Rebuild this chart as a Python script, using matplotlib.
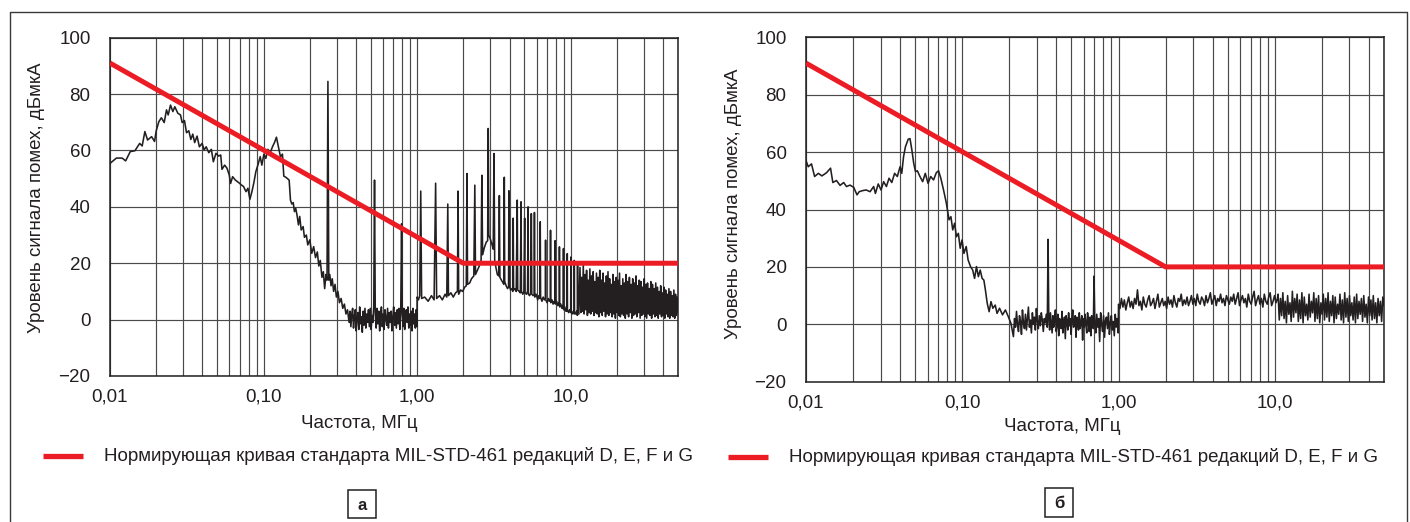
import numpy as np
import matplotlib
matplotlib.use("Agg")
import matplotlib.pyplot as plt
from matplotlib.lines import Line2D
from matplotlib.patches import Rectangle
from matplotlib.ticker import FixedLocator, FixedFormatter, LogLocator, NullFormatter

plt.rcParams['font.family'] = ['Liberation Sans', 'DejaVu Sans']

# ---------------- data ----------------
limit_f = [0.01, 2.0, 50.0]
limit_v = [91.0, 20.0, 20.0]

x_ticks = [0.01, 0.1, 1.0, 10.0]
x_tick_labels = ['0,01', '0,10', '1,00', '10,0']
y_ticks = [-20, 0, 20, 40, 60, 80, 100]

legend_text = 'Нормирующая кривая стандарта MIL-STD-461 редакций D, E, F и G'
x_label = 'Частота, МГц'
y_label = 'Уровень сигнала помех, дБмкА'
panel_labels = ['а', 'б']

# left panel (а): explicit points 0.01 - 0.35 MHz
left_a = [(0.01, 55.4), (0.0110, 57.3), (0.0120, 57.3), (0.01264, 56.3), (0.01355, 59.6),
          (0.01453, 59.9), (0.0156, 62.5), (0.0162, 61.6), (0.01687, 66.7), (0.01757, 63.7),
          (0.01866, 64.9), (0.0195, 63.2), (0.0200, 67.0), (0.0208, 70.2), (0.0216, 71.6),
          (0.02254, 69.9), (0.02333, 74.4), (0.02393, 72.6), (0.02478, 76.1), (0.02566, 73.8),
          (0.02643, 75.5), (0.02766, 73.2), (0.02877, 72.6), (0.02951, 69.9), (0.03055, 70.6),
          (0.0315, 66.3), (0.0326, 67.0), (0.0336, 63.9), (0.0346, 65.8), (0.0356, 62.8),
          (0.0369, 65.1), (0.0382, 61.3), (0.0398, 62.5), (0.0410, 60.2), (0.0423, 61.3),
          (0.0440, 59.2), (0.0457, 60.4), (0.0471, 56.0), (0.0490, 59.0), (0.0510, 58.0),
          (0.0526, 58.4), (0.0536, 53.3), (0.0558, 54.8), (0.0578, 53.7), (0.0598, 51.3),
          (0.0610, 48.3), (0.0629, 50.7), (0.0655, 49.5), (0.0689, 48.6), (0.0716, 47.8),
          (0.0741, 47.2), (0.0768, 45.4), (0.0791, 46.6), (0.0815, 42.7), (0.0840, 45.4),
          (0.0865, 48.6), (0.0891, 52.5), (0.0918, 54.8), (0.0951, 57.8), (0.0975, 54.8),
          (0.1005, 58.7), (0.1035, 57.2), (0.1067, 60.4), (0.1105, 59.2), (0.1143, 61.3),
          (0.1178, 62.8), (0.1213, 64.7), (0.125, 61.3), (0.1288, 57.8), (0.1327, 58.7),
          (0.1355, 50.9), (0.1396, 50.5), (0.1468, 49.5), (0.1497, 42.4), (0.1528, 41.0),
          (0.156, 41.5), (0.1589, 38.3), (0.162, 39.5), (0.1655, 36.8), (0.1687, 33.6),
          (0.172, 36.6), (0.1758, 31.8), (0.181, 33.0), (0.1846, 29.2), (0.19, 30.0),
          (0.194, 26.5), (0.2, 28.3), (0.206, 23.5), (0.212, 25.9), (0.218, 22.0),
          (0.224, 24.0), (0.229, 19.0), (0.234, 21.0), (0.240, 15.0), (0.245, 17.0),
          (0.250, 11.0), (0.255, 16.0), (0.259, 14.0), (0.2625, 84.5), (0.266, 14.0),
          (0.270, 16.0), (0.275, 12.0), (0.28, 14.5), (0.286, 10.0), (0.292, 12.5),
          (0.298, 8.0), (0.305, 10.0), (0.312, 6.0), (0.32, 7.5), (0.328, 4.0),
          (0.336, 5.5), (0.344, 2.0), (0.352, 3.5)]

left_noise1 = [1.5, -1.0, 3.0, -2.5, 2.0, 4.0, -3.0, 1.0, 3.5, -4.0, 0.5, 2.5, -3.5, 4.5,
               -1.5, 1.0, -4.5, 3.0, -2.0, 4.0, -3.0, 2.0, -1.0, 3.5, -2.5, 4.0, -3.5,
               1.5, -1.0, 4.5]
left_spike1 = (0.528, 49.5)
left_noise2 = [2.0, -3.0, 4.0, -1.5, 3.0, -4.0, 1.5, 4.5, -2.5, 2.0, -3.5, 3.5, 0.5, -2.0,
               4.0, -3.0, 2.5, -1.0, 3.0, -4.0, 1.0, 4.5, -2.0, 2.5, -3.0, 3.5, -1.5,
               4.0, -3.5, 2.0]
left_spike2 = (0.792, 34.0)
left_noise3 = [3.0, -2.5, 4.0, -3.5, 1.5, 3.5, -1.0, 4.5, -3.0, 2.0, -2.0, 3.0, -4.0, 4.0,
               -1.5, 2.0, -3.0, 3.5, -2.5]

# left panel: harmonics 1 - 11.3 MHz
left_b = [(1.0, 8.0), (1.02, 7.0), (1.04, 8.5), (1.056, 45.6), (1.07, 7.5), (1.12, 8.0),
          (1.18, 6.5), (1.24, 8.5), (1.29, 7.0), (1.32, 48.4), (1.34, 7.5), (1.40, 8.5),
          (1.46, 7.0), (1.52, 9.0), (1.56, 8.0), (1.584, 41.0), (1.60, 8.5), (1.66, 9.5),
          (1.72, 8.0), (1.78, 9.5), (1.83, 10.0), (1.848, 45.6), (1.865, 9.0), (1.92, 10.5),
          (1.98, 10.0), (2.04, 11.5), (2.09, 12.0), (2.112, 51.8), (2.13, 12.5), (2.2, 13.0),
          (2.26, 14.5), (2.34, 15.5), (2.376, 47.7), (2.40, 16.0), (2.47, 17.5), (2.54, 19.0),
          (2.61, 21.0), (2.64, 51.2), (2.67, 23.0), (2.74, 25.5), (2.82, 27.5), (2.88, 28.0),
          (2.904, 67.8), (2.93, 30.0), (3.00, 28.5), (3.06, 27.0), (3.13, 25.0), (3.168, 58.9),
          (3.2, 21.0), (3.26, 18.5), (3.33, 16.0), (3.40, 15.5), (3.432, 44.0), (3.46, 15.0),
          (3.54, 14.0), (3.62, 13.0), (3.67, 12.5), (3.696, 50.5), (3.72, 13.5), (3.8, 12.0),
          (3.88, 11.0), (3.94, 11.5), (3.96, 45.7), (3.99, 12.0), (4.06, 10.5), (4.14, 11.0),
          (4.20, 10.0), (4.224, 36.0), (4.25, 10.5), (4.33, 11.0), (4.42, 10.0), (4.488, 42.4),
          (4.52, 10.5), (4.62, 10.0), (4.70, 9.5), (4.752, 41.8), (4.78, 10.0), (4.88, 9.0),
          (4.96, 10.0), (5.016, 36.0), (5.05, 9.5), (5.15, 9.0), (5.24, 10.0), (5.28, 40.0),
          (5.31, 9.0), (5.40, 8.5), (5.50, 9.5), (5.544, 37.6), (5.58, 9.0), (5.70, 8.5),
          (5.78, 9.0), (5.808, 38.0), (5.84, 8.0), (5.96, 9.0), (6.10, 7.0), (6.20, 8.5),
          (6.30, 7.5), (6.336, 34.7), (6.37, 8.0), (6.50, 6.5), (6.62, 8.0), (6.74, 7.0),
          (6.84, 7.5), (6.864, 28.2), (6.89, 7.0), (7.02, 6.0), (7.15, 7.5), (7.27, 6.5),
          (7.37, 7.0), (7.392, 31.7), (7.42, 6.0), (7.56, 7.0), (7.68, 5.5), (7.82, 6.5),
          (7.90, 6.0), (7.92, 28.0), (7.95, 5.5), (8.10, 6.5), (8.22, 5.0), (8.36, 6.0),
          (8.43, 5.0), (8.448, 25.8), (8.48, 4.5), (8.63, 5.5), (8.76, 4.0), (8.90, 5.0),
          (8.95, 4.0), (8.976, 25.2), (9.00, 3.5), (9.16, 4.5), (9.30, 3.0), (9.45, 4.0),
          (9.48, 3.0), (9.504, 23.4), (9.53, 3.5), (9.70, 2.5), (9.85, 3.5), (10.0, 2.5),
          (10.032, 22.2), (10.06, 3.0), (10.22, 2.0), (10.40, 3.0), (10.54, 2.0), (10.56, 21.0),
          (10.59, 2.5), (10.76, 2.0), (10.94, 3.0), (11.06, 1.5), (11.088, 20.0), (11.12, 2.5),
          (11.30, 2.0)]

# left panel: dense harmonic band 11.5 - 50 MHz
left_dense = [18.5, 2.5, 15.0, 3.0, 19.5, 2.0, 16.0, 3.5, 17.5, 1.5, 14.0, 2.5, 18.0, 2.0,
              15.5, 3.0, 17.0, 1.5, 13.5, 2.5, 16.5, 2.0, 15.0, 1.0,
              17.5, 2.5, 14.0, 1.5, 16.5, 3.0, 13.0, 1.0, 15.5, 2.0, 17.0, 1.5, 14.5, 2.5,
              12.5, 1.0, 16.0, 2.0, 13.5, 0.5, 15.0, 2.5, 14.0, 1.5, 16.5, 1.0, 12.0, 2.0,
              14.5, 1.5, 13.0, 0.5,
              16.0, 2.0, 13.5, 1.0, 15.0, 2.5, 12.5, 0.5, 14.5, 1.5, 13.0, 2.0, 15.5, 1.0,
              12.0, 2.5, 14.0, 0.5, 13.5, 1.5, 11.5, 2.0, 14.5, 1.0, 12.5, 0.5, 13.0, 2.0,
              11.0, 1.5, 13.5, 0.5,
              12.5, 2.0, 11.0, 1.0, 13.0, 1.5, 11.5, 0.5, 10.0, 2.0, 12.0, 1.0, 9.5, 1.5,
              11.5, 0.5, 10.5, 2.0, 9.0, 1.0, 11.0, 0.5, 10.0, 1.5, 8.5, 1.0, 10.5, 0.5,
              9.0, 1.5, 8.0, 2.5]

# right panel (б): explicit points 0.01 - 0.2125 MHz
right_a = [(0.01, 57.0), (0.01034, 54.9), (0.01084, 55.9), (0.01135, 51.5), (0.0120, 52.6),
           (0.01264, 51.7), (0.01352, 52.8), (0.01436, 54.4), (0.01485, 49.4), (0.01567, 50.1),
           (0.01652, 48.4), (0.01742, 49.4), (0.01815, 48.0), (0.01914, 48.5), (0.0202, 47.7),
           (0.0212, 45.1), (0.0219, 46.2), (0.0231, 46.6), (0.0243, 46.8), (0.0257, 46.2),
           (0.0271, 48.0), (0.0278, 45.6), (0.029, 48.9), (0.0302, 46.8), (0.0314, 49.7),
           (0.0327, 48.0), (0.0340, 50.9), (0.0354, 49.4), (0.0369, 52.6), (0.0384, 51.5),
           (0.040, 54.9), (0.0410, 52.6), (0.0421, 58.4), (0.0433, 61.9), (0.0451, 64.5),
           (0.0463, 64.7), (0.0476, 60.7), (0.0489, 56.1), (0.0502, 53.2), (0.0516, 53.5),
           (0.0536, 51.5), (0.0558, 49.7), (0.058, 52.6), (0.0604, 49.1), (0.0628, 51.5),
           (0.0655, 50.3), (0.0682, 52.8), (0.0705, 53.5), (0.0729, 50.9), (0.0759, 46.8),
           (0.0791, 42.2), (0.0823, 36.4), (0.0846, 37.5), (0.0869, 32.9), (0.0893, 35.2),
           (0.0918, 30.5), (0.0944, 31.7), (0.097, 26.5), (0.0997, 29.4), (0.1025, 24.7),
           (0.106, 27.1), (0.109, 22.4), (0.113, 20.1), (0.1166, 18.9), (0.1199, 16.0),
           (0.1233, 20.1), (0.1268, 16.6), (0.1303, 18.9), (0.134, 16.0), (0.1375, 15.4),
           (0.1406, 12.0), (0.1445, 7.3), (0.1486, 4.4), (0.1527, 7.9), (0.157, 5.6),
           (0.1625, 6.7), (0.167, 3.8), (0.1732, 5.6), (0.181, 3.3), (0.1888, 5.0),
           (0.197, 2.7), (0.205, 0.3), (0.2125, -4.3)]

right_noise1 = [2.0, -1.0, 4.5, 0.0, -2.5, 3.0, 1.0, -3.5, 5.0, 0.5, -1.5, 3.5, -2.0, 2.0,
                6.0, -1.0, 1.5, -3.0, 4.0, 0.0, 2.5, -2.0, 5.5, 1.0, -1.5, 3.0, -0.5, 4.0,
                1.5, -2.5, 2.0, 0.5, 3.5, -1.0]
right_spike1 = (0.354, 29.6)
right_noise2 = [2.0, -2.0, 4.0, 0.5, -3.0, 3.0, -1.0, 1.5, 5.0, -2.5, 0.0, 3.5, -4.0, 2.0,
                1.0, -1.5, 4.5, -3.0, 0.5, 2.5, -5.0, 3.0, 1.0, -2.0, 4.0, -0.5, 2.0, -3.5,
                1.5, 5.0, -1.0, 0.0, 3.0, -4.5, 2.5, 1.0, -2.0, 4.0, -1.5, 0.5, 3.0, -5.5,
                2.0, -1.0, 3.5, 0.0, -3.0, 4.0, 1.0, -2.5, 2.5, -4.0, 3.0, 0.5, -1.5]
right_spike2 = (0.697, 16.8)
right_noise3 = [1.0, -3.0, 3.5, -1.0, 2.0, -6.0, 4.0, 0.0, -2.5, 3.0, -4.5, 1.5, 2.5, -1.5,
                4.0, -3.5, 0.5, 3.0, -2.0, 1.0, -4.0, 3.5, -1.0, 2.0, -3.0]
right_band1 = [7.0, 5.5, 9.0, 6.0, 8.5, 5.0, 7.5, 9.5, 6.0, 8.0,
               5.5, 9.0, 7.0, 12.0, 6.5, 8.0, 5.0, 9.5, 7.0, 6.0,
               8.5, 10.0, 6.5, 7.5, 9.0, 5.5, 8.0, 10.5, 6.0, 7.5,
               9.0, 6.5, 8.0, 5.5, 9.5, 7.0, 8.5, 6.0, 10.0, 7.5,
               6.0, 9.0, 8.0, 10.5, 6.5, 8.5, 7.0, 9.5, 6.5, 8.0,
               10.0, 7.0, 9.0, 6.5, 10.5, 8.0, 7.0, 9.5, 8.5, 6.5,
               10.0, 7.5, 9.0, 11.0, 7.0, 8.5, 10.0, 6.5, 9.0, 8.0,
               10.5, 7.5, 9.0, 6.5, 10.0, 8.5, 7.0, 9.5, 8.0, 10.5,
               7.0, 9.0, 11.0, 6.5, 8.5, 10.0, 7.5, 9.0, 6.0, 10.5,
               8.0, 7.0, 9.5, 11.5, 6.5, 8.5, 10.0, 7.0, 9.0, 6.0,
               10.5, 8.0, 7.0, 9.5, 11.0, 6.5, 8.0, 10.0, 7.5, 9.0]
right_band2 = [10.5, 1.5, 9.0, 3.0, 11.0, 2.0, 8.0, 0.5, 10.0, 3.5,
               7.5, 1.0, 11.5, 2.5, 9.0, 4.0, 10.5, 1.0, 8.5, 2.0,
               11.0, 0.5, 9.5, 3.0, 7.0, 1.5, 10.5, 2.5, 8.0, 4.0,
               11.0, 1.0, 9.0, 2.0, 10.0, 0.5, 7.5, 3.5, 10.5, 1.5,
               9.0, 2.5, 11.0, 1.0, 8.0, 3.0, 10.0, 0.5, 9.5, 2.0,
               7.0, 3.5, 10.5, 1.5, 8.5, 0.5, 11.0, 2.5, 9.0, 1.0,
               10.0, 3.0, 7.5, 1.5, 9.5, 0.5, 10.5, 2.0, 8.0, 3.5,
               9.0, 1.0, 10.0, 2.5, 7.0, 0.5, 9.5, 3.0, 8.5, 1.5,
               10.0, 2.0, 7.5, 0.5, 9.0, 3.0, 8.0, 1.0, 9.5, 6.5]


# ---------------- build traces ----------------
def pts(pairs):
    f, v = zip(*pairs)
    return np.array(f), np.array(v)


def seg(f0, f1, levels):
    return np.geomspace(f0, f1, len(levels)), np.asarray(levels, dtype=float)


def join(*parts):
    return (np.concatenate([p[0] for p in parts]),
            np.concatenate([p[1] for p in parts]))


left_f, left_v = join(
    pts(left_a),
    seg(0.356, 0.522, left_noise1),
    pts([left_spike1]),
    seg(0.534, 0.782, left_noise2),
    pts([left_spike2]),
    seg(0.80, 0.998, left_noise3),
    pts(left_b),
    seg(11.5, 50.0, left_dense),
)

right_f, right_v = join(
    pts(right_a),
    seg(0.216, 0.350, right_noise1),
    pts([right_spike1]),
    seg(0.358, 0.690, right_noise2),
    pts([right_spike2]),
    seg(0.705, 0.995, right_noise3),
    seg(1.0, 10.4, right_band1),
    seg(10.5, 50.0, right_band2),
)

# ---------------- figure ----------------
W, H = 1410, 522
fig = plt.figure(figsize=(W / 100, H / 100), dpi=100)
fig.patch.set_facecolor('white')


def fx(px):
    return px / W


def fy(py):
    return 1 - py / H


RED = '#ec1c24'
INK = '#231f20'
GRID = '#4a4a4a'
FS = 13.5

# outer frame (left, top, right)
fig.add_artist(Line2D([fx(10), fx(10), fx(1407), fx(1407)],
                      [fy(530), fy(12), fy(12), fy(530)],
                      color='#3a3a3a', lw=1.0, transform=fig.transFigure))

panels = [
    dict(box=(110, 37.7, 678, 376), f=left_f, v=left_v,
         ylab=(37, 197.5), xlab=(359.5, 423), leg=(43, 83, 104, 456),
         tag=(348, 490, 376, 518)),
    dict(box=(806, 37.3, 1384, 381.7), f=right_f, v=right_v,
         ylab=(734, 203.5), xlab=(1062, 426.7), leg=(728, 768, 789, 457),
         tag=(1045, 488, 1073, 517)),
]

for i, p in enumerate(panels):
    x0, y0, x1, y1 = p['box']
    ax = fig.add_axes([fx(x0), fy(y1), fx(x1) - fx(x0), fy(y0) - fy(y1)])
    ax.set_xscale('log')
    ax.set_xlim(0.01, 50)
    ax.set_ylim(-20, 100)

    ax.xaxis.set_major_locator(FixedLocator(x_ticks))
    ax.xaxis.set_major_formatter(FixedFormatter(x_tick_labels))
    ax.xaxis.set_minor_locator(LogLocator(base=10, subs=np.arange(2, 10)))
    ax.xaxis.set_minor_formatter(NullFormatter())
    ax.set_yticks(y_ticks)

    ax.tick_params(axis='both', which='both', length=0, labelsize=FS, colors=INK)
    ax.tick_params(axis='y', pad=14)
    ax.tick_params(axis='x', pad=9)

    ax.grid(True, which='major', axis='both', color=GRID, lw=0.85)
    ax.grid(True, which='minor', axis='x', color=GRID, lw=0.85)
    ax.set_axisbelow(True)
    for s in ax.spines.values():
        s.set_color(INK)
        s.set_linewidth(1.1)

    ax.plot(p['f'], p['v'], color=INK, lw=1.15, zorder=3)
    ax.plot(limit_f, limit_v, color=RED, lw=3.6, solid_capstyle='butt', zorder=4)

    # axis labels
    yl_x, yl_y = p['ylab']
    fig.text(fx(yl_x), fy(yl_y), y_label, rotation=90, ha='center', va='center',
             fontsize=FS, color=INK)
    xl_x, xl_y = p['xlab']
    fig.text(fx(xl_x), fy(xl_y), x_label, ha='center', va='center',
             fontsize=FS, color=INK)

    # legend
    lx0, lx1, tx, ly = p['leg']
    fig.add_artist(Line2D([fx(lx0), fx(lx1)], [fy(ly), fy(ly)], color=RED, lw=3.8,
                          solid_capstyle='butt', transform=fig.transFigure))
    fig.text(fx(tx), fy(ly), legend_text, ha='left', va='center', fontsize=FS, color=INK)

    # panel tag
    bx0, by0, bx1, by1 = p['tag']
    fig.add_artist(Rectangle((fx(bx0), fy(by1)), fx(bx1) - fx(bx0), fy(by0) - fy(by1),
                             transform=fig.transFigure, fill=False, edgecolor=INK, lw=1.1))
    fig.text(fx((bx0 + bx1) / 2), fy((by0 + by1) / 2 + 1), panel_labels[i], ha='center',
             va='center', fontsize=12, fontweight='bold', color=INK)

fig.savefig('out.png', dpi=100)
